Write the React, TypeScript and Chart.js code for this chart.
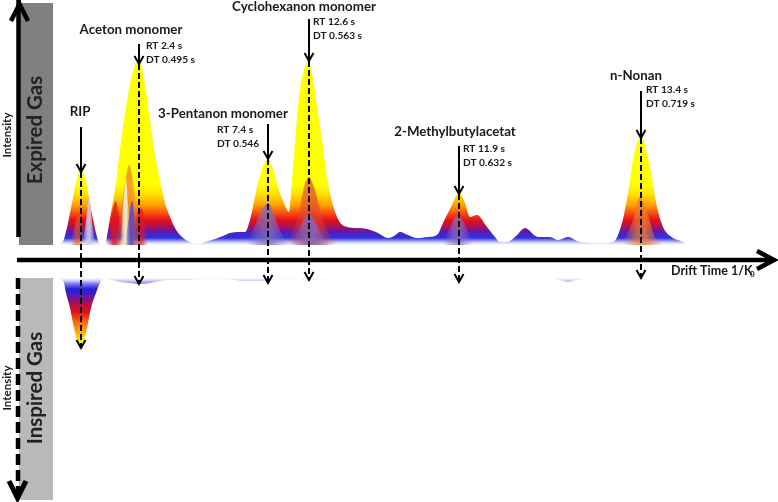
import React, { useEffect, useRef } from "react";
import { Chart, registerables } from "chart.js";

Chart.register(...registerables);

// Expired gas spectrum envelope (drift position, intensity above the baseline)
const expiredDrift = [60,64,68,72,76,81,85,89,93,97,101,105,108,112,116,120,124,128,132,136,139,141,145,150,155,160,165,170,175,180,186,192,198,205,215,223,230,240,245,250,257,262,268,273,278,284,289,293,296,300,304,308,312,315,322,328,337,347,357,367,378,388,394,400,408,417,428,437,443,451,459,465,470,477,487,495,500,507,516,525,538,550,558,568,580,600,613,622,628,635,641,650,657,663,673,683,686];
const expiredIntensity = [0,6,22,42,62,75,68,48,26,8,0,0,15,38,62,95,125,150,170,182,183,180,160,125,90,65,42,28,17,10,5,2,1,3,6,9,12,13,13,25,58,76,86,76,58,42,33,78,115,155,175,184,172,152,105,62,28,18,17,16,12,7,9,13,10,7,8,10,22,38,52,42,28,30,18,8,3,3,9,17,8,8,5,8,3,2,3,22,52,95,108,78,38,18,7,3,0];

// Inspired gas spectrum (negative side, measured from its own baseline)
const inspiredBase = -33;
const inspiredDrift = [60,64,66,70,74,77,81,84,87,91,96,100,103,107,112,120,130,139,150,160,170,185,200,225,245,262,280,300,309,320,345,440,457,470,550,560,568,576,590,680];
const inspiredDepth = [0,5,15,30,50,62,71,62,50,30,15,5,1,1,2,4,5,6,5,3,2,2,1,1,3,3,1,1,2,1,0.5,0.5,2,0.5,0.5,2,4,2,0.5,0];

// Inner structure of the peaks
const innerLayers = [
  { name: "aceton haze", x: [114,120,125,129,134,138,143], y: [0,30,62,80,58,22,0], tint: [240,125,40,0.75] },
  { name: "aceton red", x: [107,110,113,116,119,122], y: [0,22,36,44,28,0], tint: [225,20,30,0.85] },
  { name: "aceton pale", x: [120,123,126,128,131], y: [0,38,66,42,0], tint: [235,238,205,1] },
  { name: "aceton blue", x: [125,129,132,135,138], y: [0,28,44,24,0], tint: [85,75,205,0.9] },
  { name: "aceton right", x: [134,139,142,148], y: [0,34,36,0], tint: [225,25,35,0.7] },
  { name: "rip pale", x: [82,86,89,92,96], y: [0,24,50,24,0], tint: [205,205,230,0.95] },
  { name: "rip orange", x: [70,76,80,85], y: [0,24,32,0], tint: [235,90,30,0.65] },
  { name: "pentanon core", x: [246,255,262,268,274,282,290], y: [0,20,36,42,30,10,0], tint: [130,110,190,0.8] },
  { name: "cyclo glow", x: [286,298,304,309,314,320,328,338], y: [0,30,58,68,58,36,12,0], tint: [225,65,45,0.7] },
  { name: "cyclo core", x: [291,301,308,315,322,331], y: [0,20,32,24,10,0], tint: [125,105,195,0.8] },
  { name: "methyl core", x: [443,452,458,464,473], y: [0,22,30,22,0], tint: [140,110,190,0.75] },
  { name: "nonan glow", x: [622,633,640,648,655,664], y: [0,25,48,30,8,0], tint: [232,125,50,0.8] },
];

const peakNames = ["RIP", "Aceton monomer", "3-Pentanon monomer", "Cyclohexanon monomer", "2-Methylbutylacetat", "n-Nonan"];
const peakDrift = [81, 139, 268, 309, 459, 641];
const peakApex = [73, 181, 86, 184, 51, 107];
const arrowStart = [118, 201, 121, 226, 99, 154];
const inspiredEnd = [-103, -39, -38, -35, -37, -33];
const retentionLabels = ["", "RT 2.4 s", "RT 7.4 s", "RT 12.6 s", "RT 11.9 s", "RT 13.4 s"];
const driftLabels = ["", "DT 0.495 s", "DT 0.546", "DT 0.563 s", "DT 0.632 s", "DT 0.719 s"];

// Layout of the labels (x centre or left, y centre in scale units)
const nameAnchors = [[80, 133], [131, 215], [223, 131], [304, 238], [455, 113], [636, 169]];
const rtAnchors = [[0, 0], [146, 199], [217, 115], [313, 223], [463, 96], [646, 155]];
const dtAnchors = [[0, 0], [146, 185], [217, 101], [313, 209], [463, 82], [646, 141]];

const ramp = (chart: any, base: number, sign: number, stops: [number, string][]) => {
  const s = chart.scales.y;
  const max = stops[stops.length - 1][0];
  const g = chart.ctx.createLinearGradient(0, s.getPixelForValue(base), 0, s.getPixelForValue(base + sign * max));
  stops.forEach(([v, c]) => g.addColorStop(v / max, c));
  return g;
};

const softTint = (chart: any, xs: number[], t: number[]) => {
  const s = chart.scales.x;
  const g = chart.ctx.createLinearGradient(s.getPixelForValue(xs[0]), 0, s.getPixelForValue(xs[xs.length - 1]), 0);
  const c = (a: number) => `rgba(${t[0]},${t[1]},${t[2]},${a})`;
  g.addColorStop(0, c(0));
  g.addColorStop(0.35, c(t[3] * 0.85));
  g.addColorStop(0.55, c(t[3]));
  g.addColorStop(1, c(0));
  return g;
};

const expiredStops: [number, string][] = [
  [0, "#ffffff"], [2, "#dcdcf8"], [4, "#9c9cf0"], [7, "#3030e0"], [12, "#4a22c0"], [15, "#7a1490"],
  [19, "#b01050"], [25, "#e4101c"], [32, "#f85010"], [40, "#ffa000"], [50, "#ffdc00"], [60, "#ffff00"], [190, "#ffff00"],
];
const inspiredStops: [number, string][] = [
  [0, "#ffffff"], [3, "#c8c8f4"], [6, "#7878ea"], [11, "#2020e0"], [18, "#5a1ab0"], [26, "#b01050"],
  [34, "#e41018"], [44, "#f86810"], [55, "#ffb000"], [65, "#ffff00"], [72, "#ffff00"],
];

const zip = (x: number[], y: number[]) => x.map((v, i) => ({ x: v, y: y[i] }));
const area = (data: any[], backgroundColor: any, fill: any, tension = 0.35) => ({
  data, backgroundColor, fill, borderWidth: 0, pointRadius: 0, tension, cubicInterpolationMode: "monotone",
});
const stroke = (data: any[], width: number, dash: number[] = []) => ({
  data, borderColor: "#000", borderWidth: width, borderDash: dash, pointRadius: 0, fill: false, tension: 0,
  borderCapStyle: "butt", borderJoinStyle: "miter",
});
const head = (x: number, y: number, dx: number, dy: number, w: number) =>
  stroke([{ x: x - dx, y: y + dy }, { x, y }, { x: x + dx, y: y + dy }], w);

const textPlugin = {
  id: "labels",
  afterDatasetsDraw(chart: any) {
    const { ctx, scales: { x, y } } = chart;
    const put = (t: string, px: number, py: number, font: string, align: CanvasTextAlign = "left", rot = 0, color = "#1a1a1a") => {
      ctx.save();
      ctx.translate(x.getPixelForValue(px), y.getPixelForValue(py));
      ctx.rotate(rot);
      ctx.font = font;
      ctx.fillStyle = color;
      ctx.textAlign = align;
      ctx.textBaseline = "middle";
      ctx.fillText(t, 0, 0);
      ctx.restore();
    };
    const nameFont = "bold 13.3px Lato";
    const subFont = "bold 10.2px Lato";
    peakNames.forEach((n, i) => {
      put(n, nameAnchors[i][0], nameAnchors[i][1], nameFont, "center");
      if (retentionLabels[i]) put(retentionLabels[i], rtAnchors[i][0], rtAnchors[i][1], subFont);
      if (driftLabels[i]) put(driftLabels[i], dtAnchors[i][0], dtAnchors[i][1], subFont);
    });
    put("Drift Time 1/K", 671, -26, "bold 12.5px Lato");
    put("0", 750, -29, "bold 8px Lato");
    put("Expired Gas", 35, 115, "bold 20.5px Lato", "center", -Math.PI / 2, "#222");
    put("Inspired Gas", 35, -143, "bold 20.5px Lato", "center", -Math.PI / 2, "#222");
    put("Intensity", 7, 110, "bold 11.5px Lato", "center", -Math.PI / 2);
    put("Intensity", 7, -143, "bold 11.5px Lato", "center", -Math.PI / 2);
  },
};

export default function App() {
  const ref = useRef<HTMLCanvasElement>(null);
  useEffect(() => {
    const datasets: any[] = [];
    // background panels
    datasets.push(area([{ x: 19, y: 242 }, { x: 53, y: 242 }], "#808080", "origin", 0));
    datasets.push(area([{ x: 19, y: -255 }, { x: 53, y: -255 }], "#b9b9b9", { value: inspiredBase }, 0));
    // spectra
    datasets.push(area(zip(expiredDrift, expiredIntensity), (c: any) =>
      c.chart.chartArea ? ramp(c.chart, 0, 1, expiredStops) : "#f00", "origin"));
    innerLayers.forEach((l) => datasets.push(area(zip(l.x, l.y), (c: any) =>
      c.chart.chartArea ? softTint(c.chart, l.x, l.tint) : "rgba(0,0,0,0)", "origin")));
    datasets.push(area(zip(inspiredDrift, inspiredDepth.map((d) => inspiredBase - d)), (c: any) =>
      c.chart.chartArea ? ramp(c.chart, inspiredBase, -1, inspiredStops) : "#f00", { value: inspiredBase }));
    // axes as arrows
    datasets.push(stroke([{ x: 18.5, y: 245 }, { x: 18.5, y: 238 }, { x: 18.5, y: 8 }], 4.5));
    datasets.push(head(19.5, 241, 8.5, -17, 4.5));
    datasets.push(stroke([{ x: 18, y: inspiredBase }, { x: 18, y: -252 }], 4.5, [11, 5]));
    datasets.push(head(17.5, -253, 8.5, 17, 5));
    datasets.push(stroke([{ x: 17, y: -15 }, { x: 772, y: -15 }], 4.5));
    datasets.push(stroke([{ x: 757, y: -6 }, { x: 774, y: -15 }, { x: 757, y: -24 }], 4.5));
    // peak arrows
    peakDrift.forEach((x, i) => {
      datasets.push(stroke([{ x, y: arrowStart[i] }, { x, y: peakApex[i] }], 2));
      datasets.push(head(x, peakApex[i], 4.5, 8, 2));
      datasets.push(stroke([{ x, y: peakApex[i] }, { x, y: inspiredEnd[i] }], 2, [6, 3]));
      datasets.push(head(x, inspiredEnd[i], 4.5, 8, 2));
    });
    const chart = new Chart(ref.current!, {
      type: "line",
      data: { datasets: datasets.reverse() },
      options: {
        animation: false,
        responsive: false,
        events: [],
        layout: { padding: 0 },
        clip: false,
        plugins: { legend: { display: false }, tooltip: { enabled: false } },
        scales: {
          x: { type: "linear", display: false, min: 0, max: 778 },
          y: { type: "linear", display: false, min: -257, max: 245 },
        },
      } as any,
      plugins: [textPlugin],
    } as any);
    return () => chart.destroy();
  }, []);
  return (
    <canvas
      ref={ref}
      width={778}
      height={502}
      style={{ position: "absolute", left: 0, top: 0, display: "block", background: "#fff" }}
    />
  );
}
